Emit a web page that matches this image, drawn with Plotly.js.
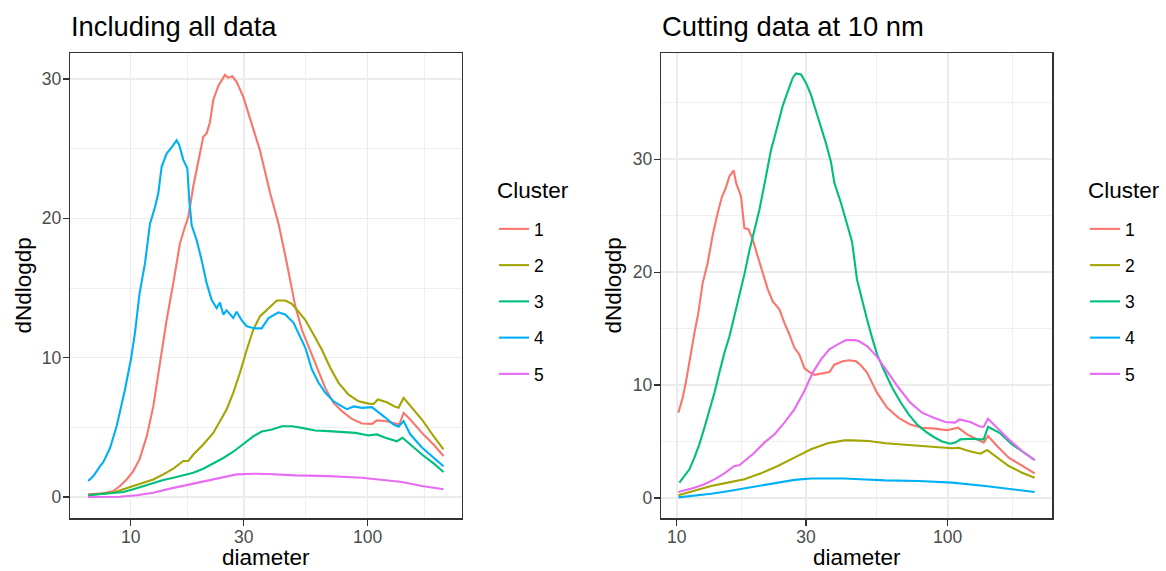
<!DOCTYPE html>
<html><head><meta charset="utf-8">
<script src="https://cdn.plot.ly/plotly-3.0.1.min.js"></script>
<style>html,body{margin:0;padding:0;background:#fff;} #chart{width:1166px;height:571px;}</style>
</head><body><div id="chart"></div>
<script>
// ---- data ----
const clusters = ['1','2','3','4','5'];
const colors = ['#F8766D','#A3A500','#00BF7D','#00B0F6','#E76BF3'];
const xTickVals = [10,30,100];
const xTickText = ['10','30','100'];

// Panel A: Including all data
const allD1 = [6.62,7.66,8.45,9.01,9.62,10.26,10.9,11.7,12.46,13.29,14.18,15.13,16.14,16.95,17.51,18.38,19.29,20.25,20.92,21.61,22.32,23.43,25.0,25.8,26.85,28.0,29.9,32.4,35.1,38.8,42.1,45.6,49.5,52.8,56.3,61.1,66.2,71.8,77.9,85.9,94.6,104.3,109.4,118.7,130.8,136,141.8,151.3,169.5,189.8,209];
const allV1 = [0.19,0.26,0.43,0.79,1.26,1.86,2.7,4.37,6.5,9.6,12.7,15.35,18.2,19.4,20.1,22.3,24.2,25.85,26.1,26.9,28.5,29.5,30.3,30.1,30.2,29.8,28.7,26.8,24.9,21.8,19.6,16.8,13.7,12.0,10.8,9.26,7.83,6.75,6.16,5.6,5.27,5.25,5.5,5.45,5.27,5.2,6.04,5.56,4.6,3.77,2.94];
const allD2 = [6.62,7.66,8.45,9.31,10.26,11.3,12.46,13.73,15.13,16.68,17.51,18.38,20.25,22.32,23.43,25.4,27.1,28.9,30.9,32.9,35.1,38.2,41.4,44.9,47.9,51.1,54.6,59.2,64.1,69.6,75.4,83.1,91.6,101,106,110.5,120.6,130.8,135.1,141.8,153.8,169.5,189.8,209];
const allV2 = [0.14,0.24,0.31,0.55,0.79,1.03,1.26,1.62,2.03,2.58,2.58,3.05,3.77,4.6,5.2,6.28,7.47,8.9,10.57,12.0,12.96,13.55,14.1,14.1,13.87,13.3,12.7,11.65,10.57,9.26,8.19,7.35,6.87,6.7,6.68,7.0,6.8,6.47,6.4,7.11,6.4,5.56,4.37,3.41];
const allD3 = [6.62,7.42,8.45,9.31,10.26,11.3,12.46,13.73,15.13,16.68,18.38,20.25,22.32,24.6,27.1,29.9,32.9,35.7,39.5,43.5,47.9,52.8,60.1,68.4,77.9,88.7,101,109.4,118.7,132.9,140.4,153.8,169.5,189.8,209];
const allV3 = [0.12,0.19,0.26,0.36,0.55,0.79,1.03,1.22,1.38,1.55,1.74,2.03,2.41,2.8,3.25,3.8,4.35,4.7,4.84,5.08,5.08,4.96,4.77,4.73,4.65,4.6,4.42,4.49,4.25,4.0,4.25,3.65,3.05,2.41,1.79];
const allD4 = [6.62,6.96,7.42,7.66,8.18,8.73,9.46,10.03,10.43,10.9,11.5,12.06,12.66,13.08,13.51,14.18,14.89,15.63,16.04,16.68,17.34,17.68,18.09,18.98,19.93,20.92,21.96,23.06,23.81,24.6,25.4,26.25,27.1,28.0,29.4,30.9,33.5,35.7,38.2,42.1,44.9,48.7,51.1,54.6,58.2,62.1,66.2,71.8,77.9,81.8,87.3,94.6,104.3,109.4,118.7,128.7,135.1,141.8,151.3,169.5,189.8,209];
const allV4 = [1.15,1.5,2.2,2.5,3.5,5.1,7.7,9.9,11.8,14.6,16.8,19.6,20.8,21.8,23.7,24.65,25.1,25.6,25.25,24.2,23.6,21.3,19.5,18.45,17.0,15.35,14.15,13.55,13.96,13.1,13.4,13.1,12.85,13.3,12.7,12.25,12.1,12.1,12.85,13.25,13.1,12.5,11.75,10.7,9.15,8.2,7.5,6.87,6.5,6.3,6.5,6.4,6.45,6.15,5.7,5.2,5.05,5.45,4.5,3.55,2.8,2.2];
const allD5 = [6.62,7.66,9.01,10.6,12.46,14.65,17.23,20.25,23.81,28.0,32.9,38.0,49.5,68.4,94.6,111.2,139.5,169.5,209];
const allV5 = [0.0,0.02,0.02,0.12,0.31,0.6,0.86,1.15,1.38,1.62,1.67,1.65,1.55,1.5,1.38,1.26,1.07,0.79,0.55];

// Panel B: Cutting data at 10 nm
const cutD1 = [10.14,10.52,10.83,11.23,11.62,12.02,12.47,13.01,13.58,14.17,14.66,15.2,15.65,16.23,16.56,17.27,17.77,18.39,19.07,19.9,20.76,21.67,22.61,23.93,24.96,26.04,27.18,28.36,29.59,30.87,32.21,34.1,36.59,38.18,40.99,43.38,45.88,47.61,50.4,54.9,59.7,65.9,72.8,80.4,90.0,99.4,109.2,117.9,132.0,135.8,140.9,152.1,168.0,188.1,209.4];
const cutV1 = [7.55,8.88,10.35,12.7,14.6,16.4,19.05,20.8,23.3,25.25,26.6,27.5,28.5,29.0,27.9,26.7,23.9,23.8,22.9,21.4,19.9,18.5,17.4,16.7,15.5,14.5,13.3,12.7,11.5,11.15,10.9,11.0,11.15,11.8,12.1,12.2,12.1,11.8,11.1,9.3,8.0,7.1,6.5,6.22,6.14,6.0,6.22,5.63,5.04,4.9,5.49,4.6,3.57,2.83,2.18];
const cutD2 = [10.14,11.62,13.39,15.43,17.77,20.47,23.6,27.18,31.3,36.07,41.58,44.36,51.1,58.9,67.8,78.2,90.0,103.8,109.8,119.6,132.0,139.7,150.0,168.0,188.1,209.4];
const cutV2 = [0.25,0.65,1.06,1.36,1.65,2.18,2.83,3.57,4.31,4.84,5.1,5.1,5.04,4.84,4.75,4.66,4.51,4.4,4.45,4.16,3.92,4.25,3.72,2.83,2.24,1.8];
const cutD3 = [10.23,10.67,11.14,11.62,12.12,12.65,13.2,13.77,14.37,15.0,15.65,16.32,17.03,17.77,18.54,19.35,20.18,21.06,21.67,22.3,22.93,23.6,24.6,25.7,26.8,27.57,28.77,30.0,31.3,32.67,34.1,35.56,37.12,38.18,40.41,42.76,44.36,46.27,48.3,50.4,52.6,54.9,58.0,62.3,66.9,71.8,77.1,82.7,88.8,95.3,102.3,106.7,111.4,121.2,132.0,135.8,140.9,150.0,156.5,172.8,190.8,209.4];
const cutV3 = [1.36,1.95,2.54,3.57,4.75,6.22,7.7,9.3,11.1,12.86,14.3,16.1,17.9,19.8,21.9,23.8,25.5,27.75,29.2,30.85,31.9,33.1,34.7,36.0,37.2,37.6,37.5,36.75,35.7,34.25,32.9,31.4,29.7,27.9,26.1,24.1,22.7,19.35,17.5,15.8,14.2,12.7,11.4,9.8,8.5,7.4,6.5,5.9,5.4,5.0,4.8,4.9,5.19,5.25,5.19,5.19,6.31,5.93,5.72,4.75,4.0,3.36];
const cutD4 = [10.14,11.62,13.39,15.43,17.77,20.47,23.6,27.18,31.3,36.07,41.58,47.61,58.9,78.2,103.8,137.7,172.8,209.4];
const cutV4 = [0.05,0.2,0.38,0.6,0.84,1.1,1.38,1.6,1.73,1.75,1.72,1.66,1.56,1.5,1.36,1.06,0.77,0.53];
const cutD5 = [10.14,10.83,11.62,12.65,13.77,15.0,16.32,17.03,17.77,19.35,21.06,22.93,24.96,27.18,29.59,31.76,34.1,36.59,39.28,42.17,45.25,46.94,50.4,54.9,59.7,65.9,72.8,80.4,88.8,98.0,106.7,110.4,121.2,132.0,135.8,140.9,152.1,168.0,188.1,209.4];
const cutV5 = [0.53,0.71,0.91,1.21,1.65,2.18,2.83,2.89,3.27,4.0,4.9,5.63,6.67,7.85,9.47,11.1,12.27,13.16,13.6,13.98,13.98,13.9,13.45,12.5,11.24,9.76,8.44,7.55,7.1,6.73,6.67,6.96,6.73,6.31,6.31,7.02,6.22,5.19,4.16,3.36];

const allX = [allD1,allD2,allD3,allD4,allD5];
const allY = [allV1,allV2,allV3,allV4,allV5];
const cutX = [cutD1,cutD2,cutD3,cutD4,cutD5];
const cutY = [cutV1,cutV2,cutV3,cutV4,cutV5];

// ---- chart ----
const W = 1166, H = 571;
const FONT = 'Liberation Sans, Arial, sans-serif';
const traces = [];
clusters.forEach((c,i)=>{
  traces.push({x: allX[i], y: allY[i], type:'scatter', mode:'lines', name:c,
    line:{color:colors[i], width:2.1}, xaxis:'x', yaxis:'y', legend:'legend',
    legendgroup:'a'+c, hoverinfo:'skip'});
});
clusters.forEach((c,i)=>{
  traces.push({x: cutX[i], y: cutY[i], type:'scatter', mode:'lines', name:c,
    line:{color:colors[i], width:2.1}, xaxis:'x2', yaxis:'y2', legend:'legend2',
    legendgroup:'b'+c, hoverinfo:'skip'});
});

const px = v => v / W;
const py = v => 1 - v / H;
const grid = '#EBEBEB';
function xax(dom, rng, anchor){
  return {type:'log', domain:dom, range:rng, anchor:anchor,
    tickmode:'array', tickvals:xTickVals, ticktext:xTickText,
    ticks:'outside', ticklen:6, tickwidth:1.1, tickcolor:'#333333', ticklabelstandoff:-4,
    tickfont:{family:FONT, size:17.5, color:'#4D4D4D'},
    showgrid:true, gridcolor:grid, gridwidth:1.6,
    minor:{tickmode:'array', tickvals:[17.32,54.77,173.2], showgrid:true, gridcolor:grid, gridwidth:0.8, ticks:''},
    showline:true, mirror:true, linecolor:'#333333', linewidth:1.2, zeroline:false, fixedrange:true};
}
function yax(dom, rng, anchor, ticks, minorTicks){
  return {domain:dom, range:rng, anchor:anchor,
    tickmode:'array', tickvals:ticks, ticktext:ticks.map(String),
    ticks:'outside', ticklen:6, tickwidth:1.1, tickcolor:'#333333', ticklabelstandoff:-2,
    tickfont:{family:FONT, size:17.5, color:'#4D4D4D'},
    showgrid:true, gridcolor:grid, gridwidth:1.6,
    minor:{tickmode:'array', tickvals:minorTicks, showgrid:true, gridcolor:grid, gridwidth:0.8, ticks:''},
    showline:true, mirror:true, linecolor:'#333333', linewidth:1.2, zeroline:false, fixedrange:true};
}
const yDom = [py(518.3), py(52.7)];
function leg(x){
  return {x:px(x), xanchor:'left', y:py(211), yanchor:'top',
    font:{family:FONT, size:17.5, color:'#000'},
    bgcolor:'rgba(0,0,0,0)', borderwidth:0, traceorder:'grouped', tracegroupgap:10.5,
    itemclick:false, itemdoubleclick:false};
}
function ann(text, x, y, size, opts){
  return Object.assign({text:text, x:px(x), y:py(y), xref:'paper', yref:'paper',
    showarrow:false, borderpad:0, font:{family:FONT, size:size, color:'#000'}}, opts||{});
}
const layout = {
  width:W, height:H, margin:{l:0,r:0,t:0,b:0},
  paper_bgcolor:'#fff', plot_bgcolor:'#fff', showlegend:true,
  font:{family:FONT},
  xaxis: xax([px(70), px(461.7)], [0.744, 2.397], 'y'),
  yaxis: yax(yDom, [-1.53, 31.89], 'x', [0,10,20,30], [5,15,25]),
  xaxis2: xax([px(661), px(1052.3)], [0.942, 2.386], 'y2'),
  yaxis2: yax(yDom, [-1.8, 39.43], 'x2', [0,10,20,30], [5,15,25,35]),
  legend: leg(494),
  legend2: leg(1085),
  annotations:[
    ann('Including all data', 70, 27, 27.4, {xanchor:'left', yanchor:'middle'}),
    ann('Cutting data at 10 nm', 661, 27, 27.4, {xanchor:'left', yanchor:'middle'}),
    ann('dNdlogdp', 23, 285.5, 22.5, {textangle:-90, xanchor:'center', yanchor:'middle'}),
    ann('dNdlogdp', 613, 285.5, 22.5, {textangle:-90, xanchor:'center', yanchor:'middle'}),
    ann('diameter', 265.8, 557, 22.5, {xanchor:'center', yanchor:'middle'}),
    ann('diameter', 856.7, 557, 22.5, {xanchor:'center', yanchor:'middle'}),
    ann('Cluster', 495.5, 190, 22.5, {xanchor:'left', yanchor:'middle'}),
    ann('Cluster', 1086.5, 190, 22.5, {xanchor:'left', yanchor:'middle'})
  ]
};
Plotly.newPlot('chart', traces, layout, {displayModeBar:false, staticPlot:true});
</script>
</body></html>
